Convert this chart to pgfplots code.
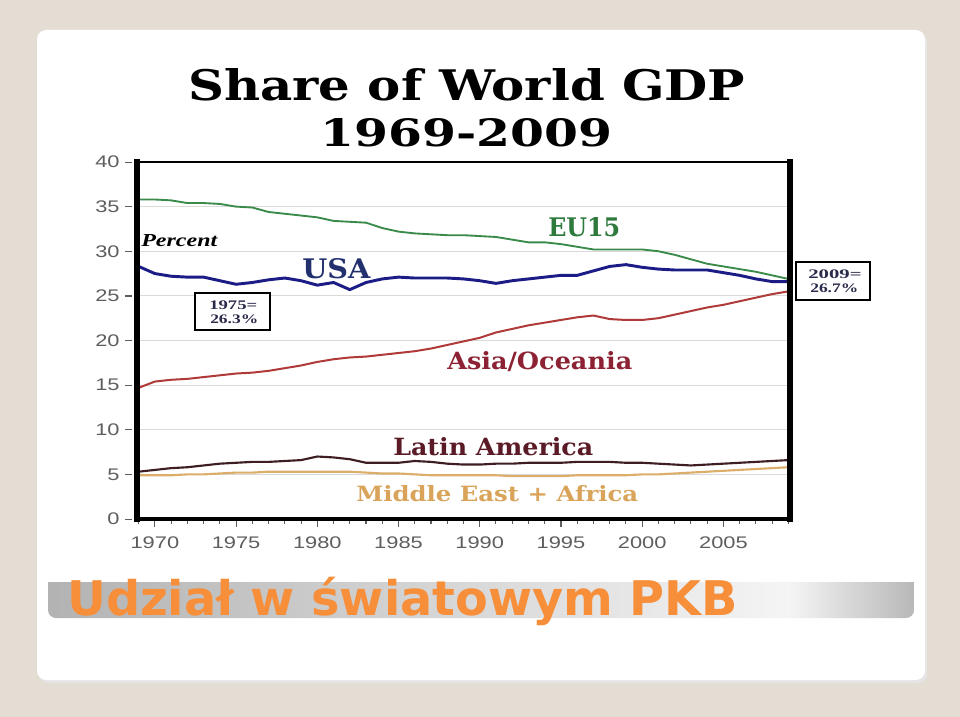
\documentclass[border=0pt]{standalone}
\usepackage{pgfplots}
\usepackage{pgfplotstable}
\pgfplotsset{compat=1.18}
\usepackage{fontspec}
\setmainfont{Liberation Sans}
\newfontfamily\tickfont[FakeStretch=1.3]{Liberation Sans}
\newfontfamily\slab{DejaVu Serif}
\newfontfamily\timesf{Liberation Serif}
\newfontfamily\pkbfont{DejaVu Sans}

\definecolor{slidebg}{HTML}{E4DDD3}
\definecolor{eucol}{HTML}{3A8A4A}
\definecolor{eutext}{HTML}{2E7A3C}
\definecolor{usacol}{HTML}{1C1C86}
\definecolor{usatext}{HTML}{22306E}
\definecolor{asiacol}{HTML}{B03A3A}
\definecolor{asiatext}{HTML}{8C2233}
\definecolor{latcol}{HTML}{3E1E22}
\definecolor{lattext}{HTML}{5A1A26}
\definecolor{mecol}{HTML}{DDAE6A}
\definecolor{metext}{HTML}{D9A45A}
\definecolor{tickgray}{HTML}{5E5E5E}
\definecolor{gridgray}{HTML}{DADADA}
\definecolor{pkb}{HTML}{F78E3A}
\definecolor{boxtext}{HTML}{2A2A4A}

\pgfplotstableread{
year eu usa asia lat me
1969 35.8 28.3 14.7 5.3 4.9
1970 35.8 27.5 15.4 5.5 4.9
1971 35.7 27.2 15.6 5.7 4.9
1972 35.4 27.1 15.7 5.8 5.0
1973 35.4 27.1 15.9 6.0 5.0
1974 35.3 26.7 16.1 6.2 5.1
1975 35.0 26.3 16.3 6.3 5.2
1976 34.9 26.5 16.4 6.4 5.2
1977 34.4 26.8 16.6 6.4 5.3
1978 34.2 27.0 16.9 6.5 5.3
1979 34.0 26.7 17.2 6.6 5.3
1980 33.8 26.2 17.6 7.0 5.3
1981 33.4 26.5 17.9 6.9 5.3
1982 33.3 25.7 18.1 6.7 5.3
1983 33.2 26.5 18.2 6.3 5.2
1984 32.6 26.9 18.4 6.3 5.1
1985 32.2 27.1 18.6 6.3 5.1
1986 32.0 27.0 18.8 6.5 5.0
1987 31.9 27.0 19.1 6.4 4.9
1988 31.8 27.0 19.5 6.2 4.9
1989 31.8 26.9 19.9 6.1 4.9
1990 31.7 26.7 20.3 6.1 4.9
1991 31.6 26.4 20.9 6.2 4.9
1992 31.3 26.7 21.3 6.2 4.8
1993 31.0 26.9 21.7 6.3 4.8
1994 31.0 27.1 22.0 6.3 4.8
1995 30.8 27.3 22.3 6.3 4.8
1996 30.5 27.3 22.6 6.4 4.9
1997 30.2 27.8 22.8 6.4 4.9
1998 30.2 28.3 22.4 6.4 4.9
1999 30.2 28.5 22.3 6.3 4.9
2000 30.2 28.2 22.3 6.3 5.0
2001 30.0 28.0 22.5 6.2 5.0
2002 29.6 27.9 22.9 6.1 5.1
2003 29.1 27.9 23.3 6.0 5.2
2004 28.6 27.9 23.7 6.1 5.3
2005 28.3 27.6 24.0 6.2 5.4
2006 28.0 27.3 24.4 6.3 5.5
2007 27.7 26.9 24.8 6.4 5.6
2008 27.3 26.6 25.2 6.5 5.7
2009 26.9 26.6 25.5 6.6 5.8
}\gdp

\begin{document}
\begin{tikzpicture}[x=0.75pt,y=-0.75pt]
\useasboundingbox (0,0) rectangle (960,717);
\fill[slidebg] (0,0) rectangle (960,717);
\fill[black!10, rounded corners=7pt] (39,33) rectangle (927,683);
\fill[white, rounded corners=7pt] (37,30) rectangle (925,680);

% slide title bar
\begin{scope}
\clip (48,582) rectangle (914,618);
\clip[rounded corners=6pt] (48,560) rectangle (914,618);
\shade[left color=black!30, right color=black!4] (48,582) rectangle (790,618);
\shade[left color=black!4, right color=black!28] (789,582) rectangle (914,618);
\end{scope}

% chart titles
\node[anchor=base west, inner sep=0] at (188,100) {\resizebox{417.75pt}{24pt}{\slab\bfseries Share of World GDP}};
\node[anchor=base west, inner sep=0] at (320,146) {\resizebox{219pt}{21pt}{\slab\bfseries 1969-2009}};

\coordinate (axorig) at (137,519);
\begin{axis}[
  at={(axorig)}, anchor=south west,
  scale only axis, width=489.75pt, height=267.75pt,
  xmin=1968.9, xmax=2009.1, ymin=0, ymax=40,
  clip=false,
  axis line style={draw=none},
  tick pos=left,
  ytick={0,5,...,40},
  ytick style={draw=none},
  ymajorgrids, grid style={gridgray, line width=0.8pt},
  xtick={1970,1975,...,2005},
  minor xtick={1969,...,2009},
  tick align=outside,
  major tick length=6pt, minor tick length=4pt,
  xtick style={tickgray, line width=0.8pt},
  minor tick style={tickgray, line width=0.6pt},
  /pgf/number format/assume math mode=true,
  /pgf/number format/1000 sep={},
  ticklabel style={font=\tickfont\fontsize{12.6}{14}\selectfont, text=tickgray},
  yticklabel={\pgfmathprintnumber{\tick}\hspace{4pt}\rule[0.3em]{5.5pt}{0.9pt}},
  yticklabel style={anchor=east, xshift=6pt},
  xticklabel style={anchor=north, yshift=-4pt},
]
\addplot[mecol, line width=1.6pt] table[x=year, y=me] {\gdp};
\addplot[latcol, line width=1.6pt] table[x=year, y=lat] {\gdp};
\addplot[asiacol, line width=1.5pt] table[x=year, y=asia] {\gdp};
\addplot[eucol, line width=1.4pt] table[x=year, y=eu] {\gdp};
\addplot[usacol, line width=2.2pt] table[x=year, y=usa] {\gdp};
\draw[line width=2.2pt, line cap=rect] (rel axis cs:0,1) -- (rel axis cs:1,1);
\draw[line width=4.5pt, line cap=rect] (rel axis cs:0,0) -- (rel axis cs:0,1);
\draw[line width=4pt, line cap=rect] (rel axis cs:1,1) -- (rel axis cs:1,0);
\draw[line width=3.5pt, line cap=rect] (rel axis cs:1,0) -- (rel axis cs:0,0);
\end{axis}

% series labels
\node[anchor=base west, inner sep=0, text=eutext] at (548,236) {\resizebox{54pt}{14.25pt}{\slab\bfseries EU15}};
\node[anchor=base west, inner sep=0, text=usatext] at (302,278) {\resizebox{51pt}{15pt}{\slab\bfseries USA}};
\node[anchor=base west, inner sep=0, text=asiatext] at (447,369) {\resizebox{138.75pt}{13.5pt}{\slab\bfseries Asia/Oceania}};
\node[anchor=base west, inner sep=0, text=lattext] at (393,455) {\resizebox{150pt}{13.5pt}{\slab\bfseries Latin America}};
\node[anchor=base west, inner sep=0, text=metext] at (356,501) {\resizebox{211.5pt}{12pt}{\slab\bfseries Middle East + Africa}};
\node[anchor=base west, inner sep=0] at (141,246) {\resizebox{57pt}{9pt}{\timesf\bfseries\itshape Percent}};

% annotation boxes
\draw[line width=1.5pt, fill=white] (195,293) rectangle (270,330);
\node[anchor=base west, inner sep=0, text=boxtext] at (209,309) {\resizebox{36pt}{6.5pt}{\timesf\bfseries 1975=}};
\node[anchor=base west, inner sep=0, text=boxtext] at (210,323) {\resizebox{36pt}{6.5pt}{\timesf\bfseries 26.3\%}};
\draw[line width=1.5pt, fill=white] (796,262) rectangle (870,300);
\node[anchor=base west, inner sep=0, text=boxtext] at (808,278) {\resizebox{40pt}{6.5pt}{\timesf\bfseries 2009=}};
\node[anchor=base west, inner sep=0, text=boxtext] at (810,292) {\resizebox{36pt}{6.5pt}{\timesf\bfseries 26.7\%}};

% slide title
\node[anchor=base west, inner sep=0, text=pkb] at (67,615) {\resizebox{503pt}{!}{\pkbfont\bfseries Udział w światowym PKB}};
\end{tikzpicture}
\end{document}
